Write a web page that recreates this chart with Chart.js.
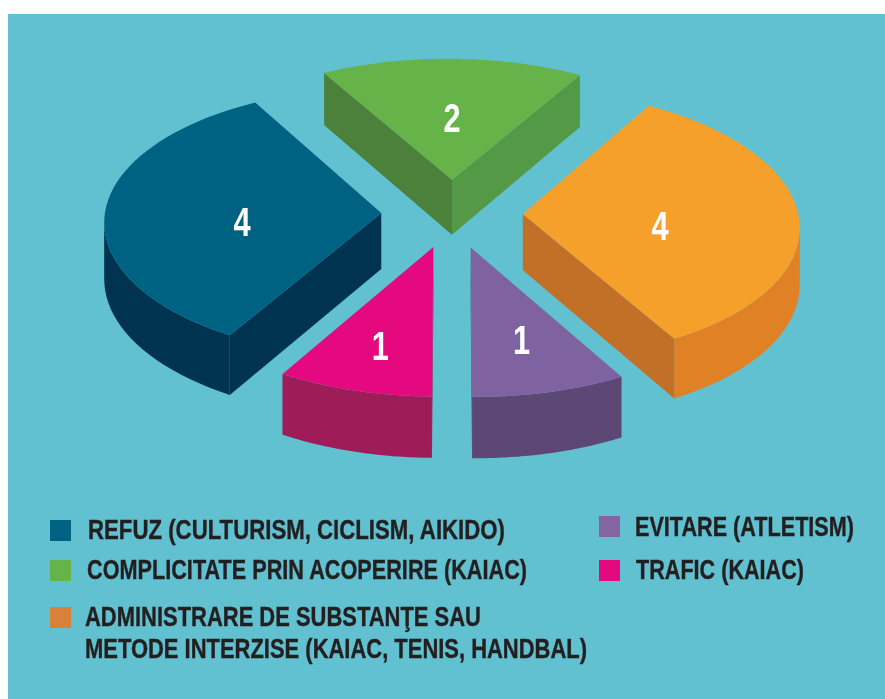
<!DOCTYPE html>
<html>
<head>
<meta charset="utf-8">
<script src="https://cdn.jsdelivr.net/npm/chart.js@4"></script>
<style>
    html, body { margin: 0; padding: 0; background: #fff; }
    #panel { position: absolute; left: 8px; top: 14px; width: 877px; height: 685px; background: #61c1d0; }
    #stage { position: absolute; left: 0; top: 0; width: 885px; height: 699px; }
    .swatch { position: absolute; width: 21px; height: 21px; }
    .entry {
        position: absolute;
        font: bold 28px "Liberation Sans", sans-serif;
        line-height: 32px;
        color: #231f20;
        -webkit-text-stroke: 0.4px #231f20;
        white-space: pre;
        transform-origin: 0 0;
    }
</style>
</head>
<body>
<div id="panel"></div>
<div id="stage"><canvas id="pieChart" width="885" height="699"></canvas></div>
<div id="legendBox"></div>
<script>
const categories = [
    "REFUZ (CULTURISM, CICLISM, AIKIDO)",
    "COMPLICITATE PRIN ACOPERIRE (KAIAC)",
    "ADMINISTRARE DE SUBSTANŢE SAU\nMETODE INTERZISE (KAIAC, TENIS, HANDBAL)",
    "EVITARE (ATLETISM)",
    "TRAFIC (KAIAC)"
];
const values = [4, 2, 4, 1, 1];

const topColors = ['#006282', '#65b349', '#f6a02c', '#7f63a0', '#e4097f'];
const curveWall = ['#00334f', '#4c813c', '#e08126', '#5c4775', '#9e1c58'];
const startWall = ['#00334f', '#4c813c', '#c26f28', '#5c4775', '#9e1c58'];
const endWall = ['#00334f', '#549a46', '#c26f28', '#5c4775', '#9e1c58'];
const swatchColors = ['#006282', '#65b349', '#d98139', '#8464a2', '#e5097f'];

// where each legend entry sits: swatch x/y, text x/y, text width
const legendSpots = [
    [50, 520, 88, 514, 417],
    [50, 560, 87, 554, 440],
    [50, 607, 85, 601, 502],
    [599, 516, 635, 511, 219],
    [599, 560, 636, 554, 168]
];

// nudges for the number on each slice, in px
const labelNudge = [[-4, 13], [0, 2], [2, 14], [-1, 1], [-1, 8]];

// fake perspective: flat pie -> tilted plane seen from above
const tilt = { rx: 276, ry: 134, persp: 0.07, depth: 56, skew: 2.2 };

function project(arc, u, v) {
    let p = 1 / (1 - tilt.persp * v);
    return { x: arc.x + tilt.rx * u * p, y: arc.y + (tilt.ry * v + tilt.skew * u) * p, p: p };
}

function faceOutline(arc) {
    const R = arc.outerRadius;
    const mid = (arc.startAngle + arc.endAngle) / 2;
    const off = arc.options.offset / R;
    const cu = off * Math.cos(mid);
    const cv = off * Math.sin(mid);
    const pts = [];
    const steps = 48;
    for (let i = 0; i <= steps; i++) {
        const a = arc.startAngle + (arc.endAngle - arc.startAngle) * i / steps;
        const pt = project(arc, cu + Math.cos(a), cv + Math.sin(a));
        pt.kind = i === steps ? 'end' : 'curve';
        pts.push(pt);
    }
    const apex = project(arc, cu, cv);
    apex.kind = 'start';
    pts.push(apex);
    return pts;
}

// one filled band per run of edges, so the curved walls have no seams
function drawWall(ctx, run, color) {
    ctx.fillStyle = color;
    ctx.beginPath();
    run.forEach((pt, k) => k ? ctx.lineTo(pt.x, pt.y) : ctx.moveTo(pt.x, pt.y));
    run.slice().reverse().forEach(pt => ctx.lineTo(pt.x, pt.y + tilt.depth * pt.p));
    ctx.closePath();
    ctx.fill();
}

const pie3d = {
    id: 'pie3d',
    beforeDatasetDraw(chart, args) {
        const ctx = chart.ctx;
        const arcs = chart.getDatasetMeta(args.index).data;
        // back slices first so the front ones paint over them
        const order = arcs.map((arc, i) => i).sort((a, b) =>
            Math.sin((arcs[a].startAngle + arcs[a].endAngle) / 2) -
            Math.sin((arcs[b].startAngle + arcs[b].endAngle) / 2));

        order.forEach(i => {
            const arc = arcs[i];
            const pts = faceOutline(arc);
            ctx.save();
            let run = [];
            let runKind = null;
            pts.forEach((pt, k) => {
                const next = pts[(k + 1) % pts.length];
                // an edge running right-to-left has its wall facing the viewer
                const facing = next.x - pt.x < -0.01;
                if (run.length && (!facing || pt.kind !== runKind)) {
                    drawWall(ctx, run, runKind === 'curve' ? curveWall[i] : runKind === 'end' ? endWall[i] : startWall[i]);
                    run = [];
                }
                if (facing) {
                    if (!run.length) run.push(pt);
                    run.push(next);
                    runKind = pt.kind;
                }
            });
            if (run.length) {
                drawWall(ctx, run, runKind === 'curve' ? curveWall[i] : runKind === 'end' ? endWall[i] : startWall[i]);
            }

            ctx.fillStyle = topColors[i];
            ctx.beginPath();
            pts.forEach((pt, k) => k ? ctx.lineTo(pt.x, pt.y) : ctx.moveTo(pt.x, pt.y));
            ctx.closePath();
            ctx.fill();

            // value label on the top face
            const mid = (arc.startAngle + arc.endAngle) / 2;
            const off = arc.options.offset / arc.outerRadius;
            const f = off + (values[i] > 1 ? 0.49 : 0.67);
            const c = project(arc, f * Math.cos(mid), f * Math.sin(mid));
            ctx.translate(c.x + labelNudge[i][0], c.y + labelNudge[i][1]);
            ctx.scale(0.75, 1);
            ctx.fillStyle = '#fff';
            ctx.font = 'bold 41px "Liberation Sans", sans-serif';
            ctx.textAlign = 'center';
            ctx.textBaseline = 'middle';
            ctx.fillText(String(values[i]), 0, 0);
            ctx.restore();
        });
        return false;
    }
};

const ctx = document.getElementById('pieChart').getContext('2d');

window.pieChart = new Chart(ctx, {
    type: 'pie',
    data: {
        labels: categories,
        datasets: [{
            data: values,
            backgroundColor: topColors,
            borderWidth: 0,
            offset: 48.5
        }]
    },
    options: {
        responsive: false,
        animation: false,
        rotation: 210,
        layout: {
            padding: { left: 19, top: 0, right: 0, bottom: 272 }
        },
        plugins: {
            legend: { display: false },
            tooltip: { enabled: false }
        }
    },
    plugins: [pie3d]
});

// legend as plain html, squeezed to the printed widths
const box = document.getElementById('legendBox');
categories.forEach((name, i) => {
    const [sx, sy, tx, ty, w] = legendSpots[i];
    const swatch = document.createElement('div');
    swatch.className = 'swatch';
    swatch.style.left = sx + 'px';
    swatch.style.top = sy + 'px';
    swatch.style.background = swatchColors[i];
    box.appendChild(swatch);

    const entry = document.createElement('div');
    entry.className = 'entry';
    entry.textContent = name;
    entry.style.left = tx + 'px';
    entry.style.top = ty + 'px';
    box.appendChild(entry);
    const scale = w / entry.getBoundingClientRect().width;
    entry.style.transform = 'scaleX(' + scale + ')';
});
</script>
</body>
</html>
